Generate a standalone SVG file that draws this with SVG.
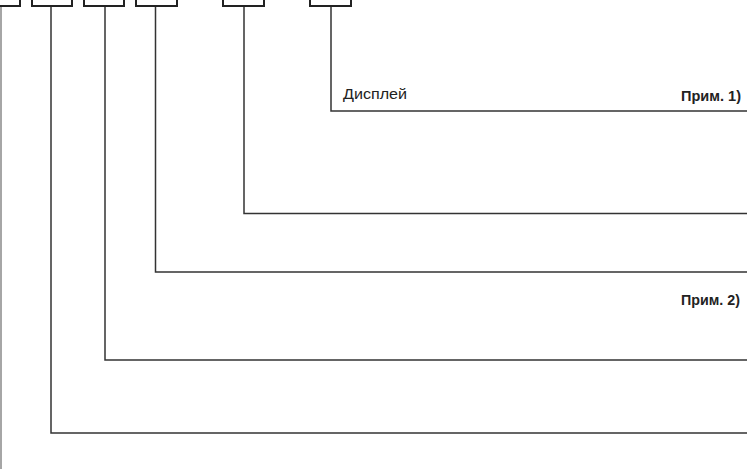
<svg xmlns="http://www.w3.org/2000/svg" width="747" height="469" viewBox="0 0 747 469">
<style>
.box{fill:#fff;stroke:#222;stroke-width:2}
.ln{fill:none;stroke:#333;stroke-width:1.5}
.lbl{font-family:"Liberation Sans",Arial,sans-serif;font-size:15px;fill:#222}
.note{font-family:"Liberation Sans",Arial,sans-serif;font-size:15px;font-weight:bold;fill:#222}
</style>
<rect width="747" height="469" fill="#fff"/>
<g id="connectors">
<path class="ln" d="M331,6 V111 H747"/>
<path class="ln" d="M244,6 V213.5 H747"/>
<path class="ln" d="M155.5,6 V272 H747"/>
<path class="ln" d="M105,6 V360 H747"/>
<path class="ln" d="M51,6 V433 H747"/>
<path class="ln" d="M1,6 V469" style="stroke:#888"/>
</g>
<g id="box1"><rect class="box" x="-30" y="-30" width="50" height="36"/></g>
<g id="box2"><rect class="box" x="32" y="-30" width="40" height="36"/></g>
<g id="box3"><rect class="box" x="84" y="-30" width="40" height="36"/></g>
<g id="box4"><rect class="box" x="136" y="-30" width="41" height="36"/></g>
<g id="box5"><rect class="box" x="223" y="-30" width="41" height="36"/></g>
<g id="box6"><rect class="box" x="310" y="-30" width="41" height="36"/></g>
<g id="labels">
<text class="lbl" x="343" y="99" textLength="64" lengthAdjust="spacingAndGlyphs">Дисплей</text>
<text class="note" x="681" y="101" textLength="60" lengthAdjust="spacingAndGlyphs">Прим. 1)</text>
<text class="note" x="681" y="305" textLength="59" lengthAdjust="spacingAndGlyphs">Прим. 2)</text>
</g>
</svg>
